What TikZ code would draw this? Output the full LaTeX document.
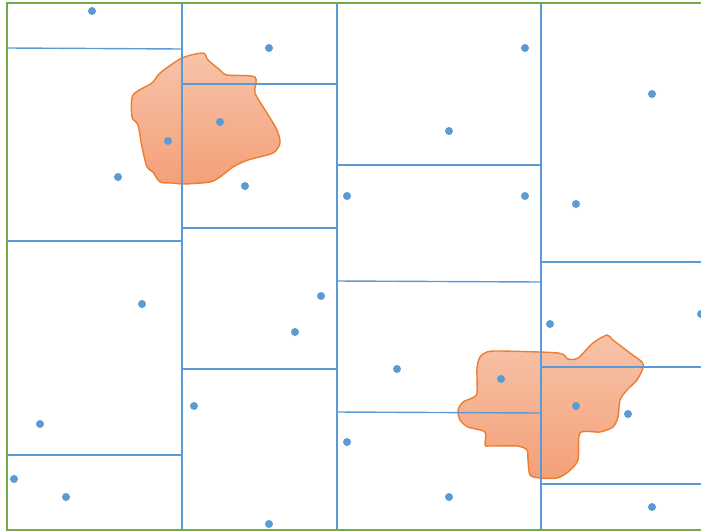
\documentclass[tikz,border=0pt]{standalone}
\usepackage{xcolor}
\usepackage{tikz}
\usetikzlibrary{calc}

\definecolor{cellblue}{HTML}{5B9BD5}
\definecolor{framegreen}{HTML}{70AD47}
\definecolor{blobline}{HTML}{ED7D31}
\definecolor{blobtop}{HTML}{F7C3A9}
\definecolor{blobbot}{HTML}{F4A078}

\begin{document}
\begin{tikzpicture}[x=1pt,y=-1pt,
          cell/.style={cellblue,line width=1.4pt},
          site/.style={circle,fill=cellblue,inner sep=0pt,minimum size=8pt},
          blob/.style={draw=blobline,line width=1.4pt,top color=blobtop,bottom color=blobbot}]
        \useasboundingbox (0,0) rectangle (701,531);
        % hot spots
        \path[blob] plot[smooth cycle,tension=0.45] coordinates {(203,53) (208,60) (220,70) (227,75) (255,77)
          (255,93) (267,113) (277,130) (280,143) (273,153) (248,160) (233,167) (220,177) (210,182)
          (185,184) (172,183) (160,182) (153,172) (147,167) (142,147) (138,125) (132,117) (133,95)
          (152,83) (160,73) (182,58)};
        \path[blob] plot[smooth cycle,tension=0.45] coordinates {(607,335) (613,340) (630,353) (642,362)
          (643,368) (637,380) (627,390) (620,400) (618,417) (613,427) (600,432) (580,433) (578,460)
          (568,472) (557,478) (540,478) (530,475) (528,460) (527,450) (517,446) (490,446) (485,445)
          (485,432) (468,427) (460,420) (458,410) (463,402) (472,398) (477,393) (477,368) (480,357)
          (487,352) (500,351) (558,353) (568,359) (578,358) (593,343)};
        % cells
        \foreach \x in {182,337,541} \draw[cell] (\x,3) -- (\x,530);
        \draw[cell] (8,48) -- (182,49);
        \draw[cell] (8,241) -- (182,241);
        \draw[cell] (8,455) -- (182,455);
        \draw[cell] (182,84) -- (337,84);
        \draw[cell] (182,228) -- (337,228);
        \draw[cell] (182,369) -- (337,369);
        \draw[cell] (337,165) -- (541,165);
        \draw[cell] (337,281) -- (541,282);
        \draw[cell] (337,412) -- (541,413);
        \draw[cell] (541,262) -- (701,262);
        \draw[cell] (541,367) -- (701,367);
        \draw[cell] (541,484) -- (701,484);
        % frame
        \draw[framegreen,line width=1.8pt] (701,3) -- (7,3) -- (7,530) -- (701,530);
        % sites
        \foreach \x/\y [count=\i] in {92/11,269/48,525/48,652/94,449/131,168/141,220/122,118/177,
            245/186,347/196,525/196,576/204,142/304,321/296,295/332,550/324,701/314,397/369,
            501/379,576/406,628/414,194/406,40/424,347/442,14/479,66/497,449/497,652/507,269/524}
          \node[site] (s\i) at (\x,\y) {};
      \end{tikzpicture}
\end{document}
